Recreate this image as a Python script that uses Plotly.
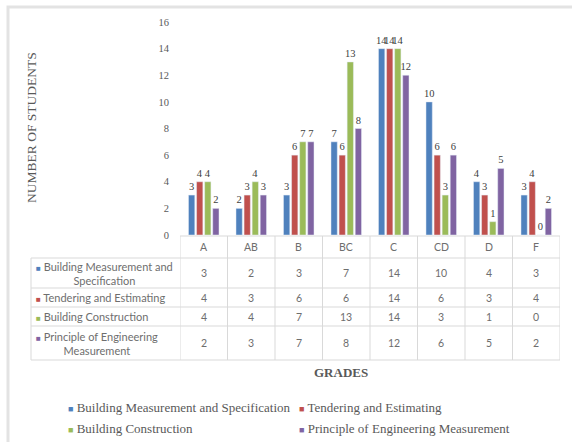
import plotly.graph_objects as go

grades = ["A", "AB", "B", "BC", "C", "CD", "D", "F"]
series_names = [
    "Building Measurement and Specification",
    "Tendering and Estimating",
    "Building Construction",
    "Principle of Engineering Measurement",
]
bms = [3, 2, 3, 7, 14, 10, 4, 3]
tendering = [4, 3, 6, 6, 14, 6, 3, 4]
construction = [4, 4, 7, 13, 14, 3, 1, 0]
pem = [2, 3, 7, 8, 12, 6, 5, 2]
series_values = [bms, tendering, construction, pem]
row_labels = [
    "Building Measurement and<br>Specification",
    "Tendering and Estimating",
    "Building Construction",
    "Principle of Engineering<br>Measurement",
]
colors = ["#4F81BD", "#C0504D", "#9BBB59", "#8064A2"]

W, H = 572, 442
ML, MR, MT, MB = 180, 12, 22, 207
PW, PH = W - ML - MR, H - MT - MB

SERIF = "Liberation Serif"
SANS = "Lato"
GREY = "#595959"
LIGHT = "#6E6E6E"
GRID = "#D9D9D9"


def px(x):
    return (x - ML) / PW


def py(y):
    return (H - MB - y) / PH


fig = go.Figure()
for name, vals, col in zip(series_names, series_values, colors):
    fig.add_trace(go.Bar(
        x=grades, y=vals, name=name, marker_color=col,
        text=[str(v) for v in vals], textposition="outside",
        textfont=dict(family=SERIF, size=10.5, color="#404040"),
        constraintext="none", cliponaxis=False, showlegend=False,
    ))

shapes = []
annotations = []


def note(**kw):
    kw.setdefault("showarrow", False)
    kw.setdefault("xanchor", "center")
    kw.setdefault("yanchor", "middle")
    annotations.append(kw)


# outer chart frame
shapes.append(dict(type="rect", xref="paper", yref="paper",
                   x0=px(8), x1=px(580), y0=py(7), y1=py(460),
                   line=dict(color="#E3E3E3", width=3), layer="below"))

# data table grid
row_edges = [258, 288, 307, 326, 360]
n = len(grades)
shapes.append(dict(type="line", xref="x", yref="paper", x0=-0.5, x1=n - 0.5,
                   y0=py(236), y1=py(236), line=dict(color=GRID, width=1)))
for ye in row_edges:
    shapes.append(dict(type="line", xref="paper", yref="paper", x0=px(31), x1=1,
                       y0=py(ye), y1=py(ye), line=dict(color=GRID, width=1)))
for i in range(n + 1):
    shapes.append(dict(type="line", xref="x", yref="paper", x0=i - 0.5, x1=i - 0.5,
                       y0=py(236), y1=py(360), line=dict(color=GRID, width=1)))
shapes.append(dict(type="line", xref="paper", yref="paper", x0=px(31), x1=px(31),
                   y0=py(258), y1=py(360), line=dict(color=GRID, width=1)))

# header row: grade names
for g in grades:
    note(x=g, xref="x", y=py(247), yref="paper", text=g,
         font=dict(family=SANS, size=10.5, color=LIGHT))

# table rows: series label with colour key, then values
row_centres = [(row_edges[k] + row_edges[k + 1]) / 2 for k in range(4)]
for k in range(4):
    yc = py(row_centres[k])
    label = f'<span style="color:{colors[k]};font-size:8px">■</span> ' + row_labels[k]
    note(x=px(34), xref="paper", y=yc, yref="paper", text=label,
         xanchor="left", align="center",
         font=dict(family=SANS, size=11, color=LIGHT))
    for g, v in zip(grades, series_values[k]):
        note(x=g, xref="x", y=yc, yref="paper", text=str(v),
             font=dict(family=SANS, size=10.5, color=LIGHT))

# axis titles
note(x=px(32), xref="paper", y=py(128), yref="paper",
     text="NUMBER OF STUDENTS", textangle=-90,
     font=dict(family=SERIF, size=13.5, color=GREY))
note(x=px(341), xref="paper", y=py(372), yref="paper",
     text="<b>GRADES</b>",
     font=dict(family=SERIF, size=13, color=GREY))

# legend
legend_pos = [(66, 407), (297, 407), (66, 428), (297, 428)]
for (lx, ly), name, col in zip(legend_pos, series_names, colors):
    note(x=px(lx), xref="paper", y=py(ly), yref="paper",
         text=f'<span style="color:{col};font-size:9px">■</span> {name}',
         xanchor="left", font=dict(family=SERIF, size=13, color=GREY))

fig.update_layout(
    width=W, height=H,
    margin=dict(l=ML, r=MR, t=MT, b=MB),
    paper_bgcolor="white", plot_bgcolor="white",
    barmode="group", bargap=0.32, bargroupgap=0.22,
    xaxis=dict(showticklabels=False, showgrid=False, zeroline=False,
               showline=False, ticks="", range=[-0.5, n - 0.5]),
    yaxis=dict(range=[0, 16], dtick=2, showgrid=False, zeroline=False,
               showline=False, ticks="", ticklabelstandoff=10,
               tickfont=dict(family=SERIF, size=10.5, color=GREY)),
    shapes=shapes, annotations=annotations,
)

fig.write_html("out.html")
